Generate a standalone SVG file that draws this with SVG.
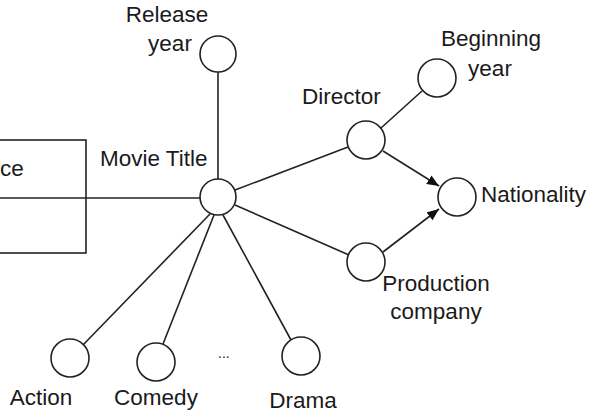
<svg xmlns="http://www.w3.org/2000/svg" width="590" height="416" viewBox="0 0 590 416">
<style>
.n{fill:#fff;stroke:#222;stroke-width:1.6}
.e{stroke:#222;stroke-width:1.6;fill:none}
text{font-family:"Liberation Sans",Arial,sans-serif;font-size:22.5px;fill:#1a1a1a}
</style>
<defs>
<marker id="ah" viewBox="0 0 12 10" refX="12" refY="5" markerWidth="12" markerHeight="10" markerUnits="userSpaceOnUse" orient="auto">
<path d="M0,0L12,5L0,10z" fill="#111"/>
</marker>
</defs>
<rect width="590" height="416" fill="#fff"/>
<g id="connectors">
<line class="e" x1="0" y1="198" x2="200" y2="198"/>
<line class="e" x1="218" y1="72" x2="218" y2="179"/>
<line class="e" x1="235" y1="190" x2="348" y2="147"/>
<line class="e" x1="235" y1="205" x2="349" y2="255"/>
<line class="e" x1="381" y1="128" x2="422" y2="91"/>
<line class="e" x1="383" y1="151" x2="439" y2="186" marker-end="url(#ah)"/>
<line class="e" x1="383" y1="252" x2="439" y2="209" marker-end="url(#ah)"/>
<line class="e" x1="210" y1="214" x2="83" y2="345"/>
<line class="e" x1="214" y1="215" x2="163" y2="344"/>
<line class="e" x1="223" y1="215" x2="291" y2="340"/>
</g>
<g id="box"><rect x="-5" y="140" width="91" height="113" fill="none" stroke="#222" stroke-width="1.6"/><text x="0" y="176">ce</text></g>
<g id="movie"><circle class="n" cx="218" cy="197" r="18"/><text x="100" y="166">Movie Title</text></g>
<g id="release"><circle class="n" cx="218" cy="54" r="18"/><text x="167" y="22" text-anchor="middle">Release</text><text x="170" y="51" text-anchor="middle">year</text></g>
<g id="director"><circle class="n" cx="366" cy="140" r="19"/><text x="302" y="104">Director</text></g>
<g id="beginning"><circle class="n" cx="437" cy="78" r="19"/><text x="491" y="46" text-anchor="middle">Beginning</text><text x="490" y="76" text-anchor="middle">year</text></g>
<g id="nationality"><circle class="n" cx="457" cy="197" r="19"/><text x="481" y="202">Nationality</text></g>
<g id="production"><circle class="n" cx="366" cy="262" r="19"/><text x="436" y="291" text-anchor="middle">Production</text><text x="436" y="319" text-anchor="middle">company</text></g>
<g id="action"><circle class="n" cx="70" cy="358" r="19"/><text x="41" y="405" text-anchor="middle">Action</text></g>
<g id="comedy"><circle class="n" cx="156" cy="362" r="19"/><text x="156" y="405" text-anchor="middle">Comedy</text></g>
<g id="drama"><circle class="n" cx="301" cy="356" r="19"/><text x="303" y="408" text-anchor="middle">Drama</text></g>
<g id="dots"><text x="218" y="358" style="font-size:14px">...</text></g>
</svg>
